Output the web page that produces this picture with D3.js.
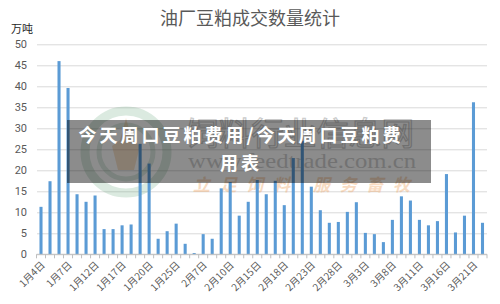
<!DOCTYPE html>
<html>
<head>
<meta charset="utf-8">
<script src="https://cdn.jsdelivr.net/npm/d3@7/dist/d3.min.js"></script>
<style>
  html, body { margin: 0; padding: 0; background: #fff; }
  svg { display: block; font-family: "Noto Sans CJK SC", "Noto Sans", sans-serif; }
</style>
</head>
<body>
<div id="chart"></div>
<script>
// trading days (x categories)
var dates = ["1月4日","1月5日","1月6日","1月7日","1月8日","1月11日","1月12日","1月13日","1月15日","1月17日",
             "1月18日","1月19日","1月20日","1月21日","1月22日","1月25日","1月26日","1月27日","2月7日","2月8日",
             "2月9日","2月10日","2月11日","2月14日","2月15日","2月16日","2月17日","2月18日","2月19日","2月22日",
             "2月23日","2月24日","2月25日","2月28日","3月1日","3月2日","3月3日","3月4日","3月7日","3月8日",
             "3月9日","3月10日","3月11日","3月14日","3月15日","3月16日","3月17日","3月18日","3月21日","3月22日"];

// 成交数量, 万吨
var volumes = [11.3, 17.4, 46.0, 39.6, 14.3, 12.5, 14.0, 6.0, 6.0, 6.9,
               7.1, 26.3, 21.6, 3.7, 5.5, 7.3, 2.5, 0.3, 4.8, 3.7,
               15.7, 17.2, 9.2, 12.5, 17.7, 14.3, 17.5, 11.7, 22.9, 27.0,
               16.1, 10.5, 7.5, 7.7, 10.1, 12.4, 5.1, 4.8, 2.9, 8.2,
               13.8, 12.8, 8.2, 6.9, 7.9, 19.1, 5.2, 9.2, 36.2, 7.5];

var yTicks = [0, 5, 10, 15, 20, 25, 30, 35, 40, 45, 50];
var xLabels = ["1月4日","1月7日","1月12日","1月17日","1月20日","1月25日","2月7日","2月10日","2月15日",
               "2月18日","2月23日","2月28日","3月3日","3月8日","3月11日","3月16日","3月21日"];

var data = dates.map(function(d, i) { return { date: d, value: volumes[i] }; });

var width = 500, height = 304;

var svg = d3.select("#chart")
  .append("svg")
    .attr("width", width)
    .attr("height", height);

var x = d3.scaleBand()
  .domain(dates)
  .range([36.5, 487])
  .paddingInner(0.66)
  .paddingOuter(0.33);

var y = d3.scaleLinear()
  .domain([0, 50])
  .range([254.3, 44.3]);

// title + unit
svg.append("text")
  .attr("x", 250).attr("y", 25)
  .attr("text-anchor", "middle")
  .style("font-size", "18px")
  .style("fill", "#595959")
  .text("油厂豆粕成交数量统计");

svg.append("text")
  .attr("x", 11).attr("y", 33)
  .style("font-size", "11px")
  .style("fill", "#262626")
  .text("万吨");

// gridlines + y labels
svg.append("g")
  .attr("transform", "translate(37,0)")
  .call(d3.axisLeft(y).tickValues(yTicks).tickSize(-450).tickPadding(10))
  .call(function(g) {
    g.select(".domain").remove();
    g.selectAll(".tick line").attr("stroke", "#d9d9d9").attr("stroke-width", 1);
    g.selectAll(".tick text")
      .style("font-family", "Roboto, 'Noto Sans', sans-serif")
      .style("font-size", "11px")
      .style("fill", "#595959");
  });

// watermark (faint logo + site text)
var wm = svg.append("g").attr("pointer-events", "none");
wm.append("circle").attr("cx", 126).attr("cy", 152).attr("r", 41)
  .attr("fill", "none").attr("stroke", "#5a9e72").attr("stroke-width", 9).attr("opacity", 0.22);
wm.append("circle").attr("cx", 126).attr("cy", 152).attr("r", 27)
  .attr("fill", "none").attr("stroke", "#5a9e72").attr("stroke-width", 5).attr("opacity", 0.2);
wm.append("path")
  .attr("d", "M126,118 L120,140 L112,146 L118,170 L134,170 L140,146 L132,140 Z")
  .attr("fill", "#e9a15b").attr("opacity", 0.3);
wm.append("text")
  .attr("x", 186).attr("y", 145)
  .attr("textLength", 228).attr("lengthAdjust", "spacingAndGlyphs")
  .style("font-size", "32px")
  .style("fill", "none").style("stroke", "#8c8c8c").style("stroke-width", 1.2)
  .attr("opacity", 0.45)
  .text("饲料行业信息网");
wm.append("text")
  .attr("x", 188).attr("y", 168)
  .attr("textLength", 228).attr("lengthAdjust", "spacingAndGlyphs")
  .style("font-family", "'Liberation Serif', serif")
  .style("font-size", "22px")
  .style("fill", "#8c8c8c")
  .attr("opacity", 0.4)
  .text("www.feedtrade.com.cn");
wm.append("text")
  .attr("x", 193).attr("y", 191)
  .attr("textLength", 217).attr("lengthAdjust", "spacing")
  .style("font-size", "17px").style("font-weight", "bold").style("font-style", "italic")
  .style("fill", "#f0a868")
  .attr("opacity", 0.4)
  .text("立足饲料 服务畜牧");

// bars
svg.append("g")
  .selectAll("rect")
  .data(data)
  .enter()
  .append("rect")
    .attr("x", function(d) { return x(d.date); })
    .attr("y", function(d) { return y(d.value); })
    .attr("width", x.bandwidth())
    .attr("height", function(d) { return y(0) - y(d.value); })
    .style("fill", "#5b9bd5");

// x axis: baseline, band boundary ticks, rotated labels
var xAxis = svg.append("g").attr("transform", "translate(0," + y(0) + ")");
xAxis.append("line")
  .attr("x1", 36.5).attr("x2", 487)
  .attr("stroke", "#bfbfbf");
xAxis.selectAll(".bnd")
  .data(dates.concat([null]))
  .enter()
  .append("line")
    .attr("class", "bnd")
    .attr("x1", function(d, i) { return 36.5 + x.step() * i; })
    .attr("x2", function(d, i) { return 36.5 + x.step() * i; })
    .attr("y1", 0).attr("y2", 4)
    .attr("stroke", "#bfbfbf");

xAxis.append("g")
  .call(d3.axisBottom(x).tickValues(xLabels).tickSize(0).tickPadding(0))
  .call(function(g) {
    g.select(".domain").remove();
    g.selectAll(".tick text")
      .attr("text-anchor", "end")
      .attr("dy", "0.35em")
      .attr("y", 0)
      .attr("transform", "translate(2,9) rotate(-45)")
      .style("font-family", "'Noto Sans CJK SC', sans-serif")
      .style("font-size", "10px")
      .style("fill", "#595959");
  });

// dark caption band on top
svg.append("rect")
  .attr("x", 67).attr("y", 120)
  .attr("width", 364).attr("height", 63)
  .style("fill", "#000")
  .style("fill-opacity", 0.45);

var cap = svg.append("text")
  .attr("text-anchor", "middle")
  .style("font-size", "18px")
  .style("font-weight", "bold")
  .style("letter-spacing", "3px")
  .style("fill", "#fff");
cap.append("tspan").attr("x", 241).attr("y", 142).text("今天周口豆粕费用/今天周口豆粕费");
cap.append("tspan").attr("x", 241).attr("y", 170).text("用表");
</script>
</body>
</html>
